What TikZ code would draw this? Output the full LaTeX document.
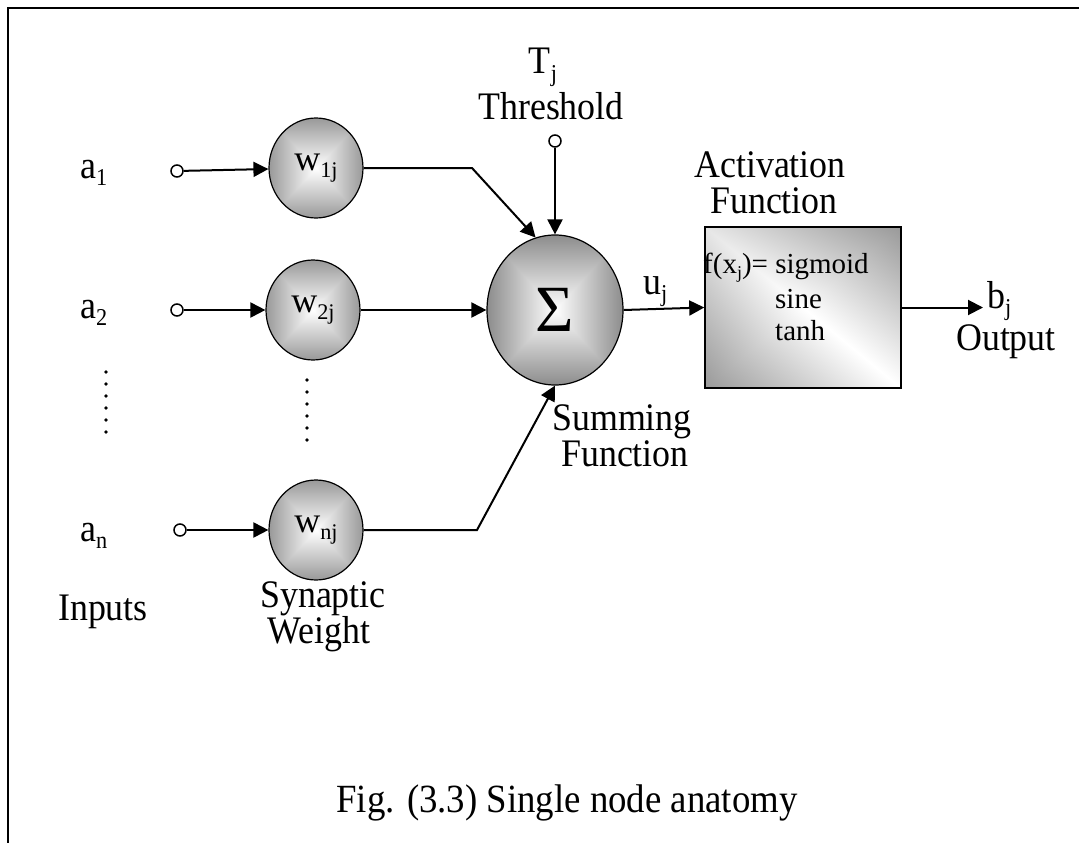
\documentclass[tikz,border=0pt]{standalone}
\usepackage{fontspec}
\setmainfont{Liberation Serif}[FakeStretch=0.92]
\newfontfamily\plainfont{Liberation Serif}
\usetikzlibrary{arrows.meta,shapes.geometric}
\pgfdeclarefunctionalshading{wball}{\pgfpoint{-50bp}{-50bp}}{\pgfpoint{50bp}{50bp}}{}{abs exch abs 2 copy lt {exch} if pop 25 div 0.4 mul neg 1 add dup dup}
\pgfdeclarefunctionalshading{sball}{\pgfpoint{-50bp}{-50bp}}{\pgfpoint{50bp}{50bp}}{}{abs exch abs 2 copy lt {exch} if pop 25 div 0.45 mul neg 1 add dup dup}
\pgfdeclarefunctionalshading{boxshade}{\pgfpoint{-50bp}{-50bp}}{\pgfpoint{50bp}{50bp}}{}{2 copy add abs 50 div 0.4 mul 3 1 roll exch sub dup 0 lt {pop 0} if 500 div add neg 1 add dup dup}
\newcommand\lsub[1]{\raisebox{-0.2em}{\scalebox{0.62}{#1}}}
\begin{document}
\begin{tikzpicture}[x=1pt,y=-1pt,
  lbl/.style={font=\fontsize{39}{42}\selectfont, inner sep=0pt, anchor=base},
  boxtxt/.style={font=\plainfont\fontsize{29}{32}\selectfont, inner sep=0pt, anchor=base west},
  wnode/.style={ellipse, draw, line width=1.2pt, minimum width=94pt, minimum height=100pt,
                shading=wball, inner sep=0pt, font=\plainfont\fontsize{36}{38}\selectfont},
  sumnode/.style={ellipse, draw, line width=1.2pt, minimum width=136pt, minimum height=150pt,
                shading=sball, inner sep=0pt, font=\plainfont\fontsize{66}{70}\selectfont},
  innode/.style={circle, draw, line width=1.5pt, minimum size=12pt, inner sep=0pt, fill=white},
  actbox/.style={rectangle, draw, line width=1.5pt, minimum width=196pt, minimum height=161pt,
                 shading=boxshade},
  conn/.style={line width=2pt, -{Triangle[length=15pt,width=15pt]}},
  dotmark/.style={fill=black}
]
\useasboundingbox (0,0) rectangle (1079,843);
% frame
\draw[line width=2.5pt] (1079,8) -- (8,8) -- (8,843);

% weight nodes
\node[wnode] (w1) at (316,168) {w\lsub{1j}};
\node[wnode] (w2) at (313,310) {w\lsub{2j}};
\node[wnode] (wn) at (316,530) {w\lsub{nj}};
% summing node
\node[sumnode] (sig) at (555,310) {Σ};
% activation box
\node[actbox] (box) at (803,307.5) {};
\node[boxtxt] (f1) at (703,273) {f(x\lsub{j})= sigmoid};
\node[boxtxt] (f2) at (775,308) {sine};
\node[boxtxt] (f3) at (775,340) {tanh};

% input terminals
\node[innode] (c1) at (177,171) {};
\node[innode] (c2) at (177,310) {};
\node[innode] (cn) at (180,530) {};
\node[innode] (thr) at (555,141) {};

\coordinate (k1) at (472,168);
\coordinate (kn) at (477,530);
\coordinate (outc) at (983,307.5);

% connectors
\draw[conn] (c1) -- (w1);
\draw[conn] (c2) -- (w2);
\draw[conn] (cn) -- (wn);
\draw[conn] (w1.east) -- (k1) -- (sig.105);
\draw[conn] (w2.east) -- (sig.west);
\draw[conn] (wn.east) -- (kn) -- (sig.south);
\draw[conn] (thr) -- (sig.north);
\draw[conn] (sig.east) -- (box.west);
\draw[conn] (box.east) -- (outc);

% dots
\foreach \yy in {372,384,...,432} \fill[dotmark] (106,\yy) circle (1.9pt);
\foreach \yy in {380,392,...,440} \fill[dotmark] (307,\yy) circle (1.9pt);

% labels
\node[lbl] (tj) at (543,74) {T\lsub{j}};
\node[lbl] (thrlbl) at (551,119) {Threshold};
\node[lbl,anchor=base west] (a1) at (80,178) {a\lsub{1}};
\node[lbl,anchor=base west] (a2) at (80,318) {a\lsub{2}};
\node[lbl,anchor=base west] (an) at (80,541) {a\lsub{n}};
\node[lbl] (inputs) at (103,620) {Inputs};
\node[lbl] (syn1) at (323,607) {Synaptic};
\node[lbl] (syn2) at (319,643) {Weight};
\node[lbl] (sum1) at (622,430) {Summing};
\node[lbl] (sum2) at (625,466) {Function};
\node[lbl] (act1) at (770,177) {Activation};
\node[lbl] (act2) at (774,213) {Function};
\node[lbl] (outl) at (1006,350) {Output};
\node[lbl,anchor=base west] (bj) at (987,308) {b\lsub{j}};
\node[lbl,anchor=base west] (uj) at (643,294) {u\lsub{j}};
\node[lbl,font=\fontsize{40}{44}\selectfont] (cap) at (567,812) {Fig. (3.3) Single node anatomy};
\end{tikzpicture}
\end{document}
